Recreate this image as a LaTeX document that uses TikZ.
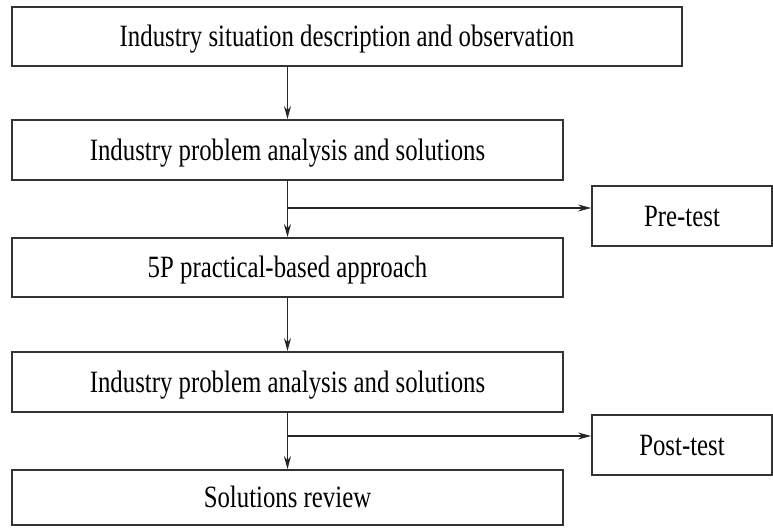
\documentclass[tikz,border=0pt]{standalone}
\usepackage{fontspec}
\setmainfont{Liberation Serif}
\usetikzlibrary{arrows.meta}
\begin{document}
\begin{tikzpicture}[x=1pt,y=-1pt,
  box/.style={draw=black!80, line width=1.8pt, inner sep=0pt, text height=20.5pt, text depth=0pt,
    font=\fontsize{31}{31}\selectfont},
  arr/.style={draw=black!85, line width=1.3pt, -{Stealth[length=13pt,width=7pt]}}]
\useasboundingbox (0,0) rectangle (773,527);
\newcommand{\sq}[1]{\scalebox{0.8}[1]{#1}}
\node[box, minimum width=670pt, minimum height=59pt] (b1) at (347,36.5) {\sq{Industry situation description and observation}};
\node[box, minimum width=551pt, minimum height=60pt] (b2) at (287.5,150) {\sq{Industry problem analysis and solutions}};
\node[box, minimum width=551pt, minimum height=59pt] (b3) at (287.5,267.5) {\sq{5P practical-based approach}};
\node[box, minimum width=551pt, minimum height=60pt] (b4) at (287.5,382) {\sq{Industry problem analysis and solutions}};
\node[box, minimum width=551pt, minimum height=55pt] (b5) at (287.5,497.5) {\sq{Solutions review}};
\node[box, minimum width=180pt, minimum height=60pt] (pre) at (682,216) {\sq{Pre-test}};
\node[box, minimum width=180pt, minimum height=60pt] (post) at (682,445) {\sq{Post-test}};
\coordinate (j1) at (287.5,208);
\coordinate (j2) at (287.5,436);
\draw[arr] (b2.north |- b1.south) -- (b2.north);
\draw[arr] (b2.south) -- (b3.north);
\draw[arr] (j1) -- (j1 -| pre.west);
\draw[arr] (b3.south) -- (b4.north);
\draw[arr] (b4.south) -- (b5.north);
\draw[arr] (j2) -- (j2 -| post.west);
\end{tikzpicture}
\end{document}
